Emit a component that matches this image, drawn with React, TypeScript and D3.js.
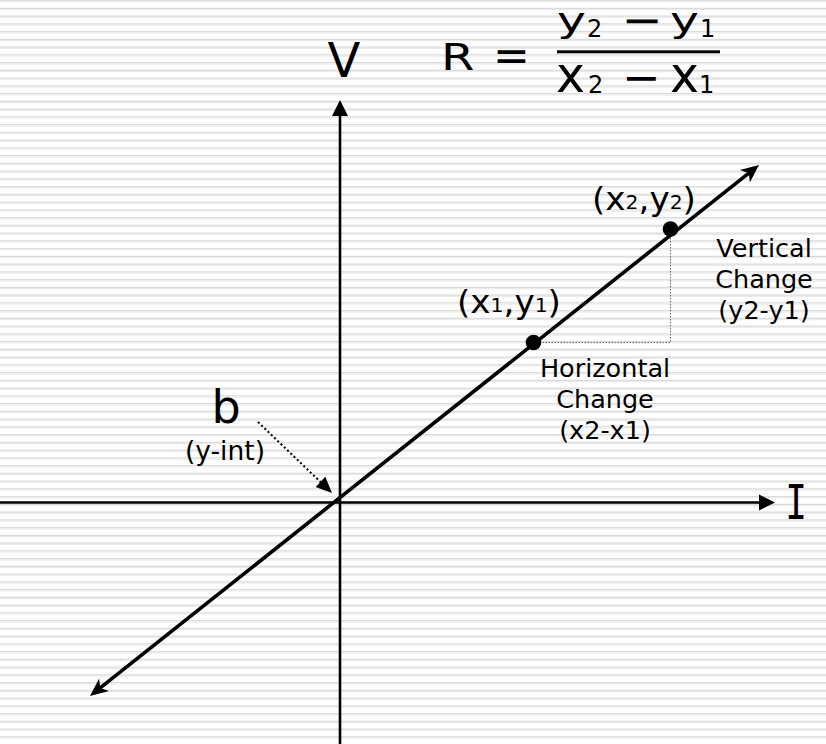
import React from "react";
import * as d3 from "d3";

const W = 826;
const H = 744;

// coordinate system (diagram units)
const xDomain = [-6.8, 9.72];
const yDomain = [-4.83, 10.05];

// axes: [start, arrow tip]
const hAxis = [-6.8, 8.7];
const vAxis = [-4.83, 8.05];

// the line R through the two points (ends are arrow tips)
const lineEnds: [number, number][] = [
  [-5.0, -3.87],
  [8.38, 6.75],
];

const pointNames = ["p1", "p2"];
const pointX = [3.87, 6.61];
const pointY = [3.2, 5.47];

const stripePeriod = 7.75;

const FONT = "'DejaVu Sans', Verdana, sans-serif";

function arrowHead(tipX: number, tipY: number, fromX: number, fromY: number, len: number, half: number, notch: number) {
  const a = Math.atan2(tipY - fromY, tipX - fromX);
  const c = Math.cos(a), s = Math.sin(a);
  const p = (u: number, v: number) => [tipX + u * c - v * s, tipY + u * s + v * c];
  const pts = [p(0, 0), p(-len, -half), p(-len + notch, 0), p(-len, half)];
  return "M" + pts.map((q) => q.join(",")).join("L") + "Z";
}

export default function App() {
  const x = d3.scaleLinear().domain(xDomain).range([0, W]);
  const y = d3.scaleLinear().domain(yDomain).range([H, 0]);

  const stripes = d3.range(0, H, stripePeriod);

  const ox = x(0);
  const oy = y(0);

  const hTip = x(hAxis[1]);
  const vTip = y(vAxis[1]);
  const axisArrowLen = 16;

  const [l0, l1] = lineEnds;
  const lx0 = x(l0[0]), ly0 = y(l0[1]);
  const lx1 = x(l1[0]), ly1 = y(l1[1]);
  const ang = Math.atan2(ly1 - ly0, lx1 - lx0);
  const back = 11;
  const lineGen = d3.line();
  const lineD = lineGen([
    [lx0 + back * Math.cos(ang), ly0 + back * Math.sin(ang)],
    [lx1 - back * Math.cos(ang), ly1 - back * Math.sin(ang)],
  ]);

  const p1x = x(pointX[0]), p1y = y(pointY[0]);
  const p2x = x(pointX[1]), p2y = y(pointY[1]);

  // b annotation dotted arrow
  const bx0 = 258, by0 = 422, bx1 = 332, by1 = 493;
  const bAng = Math.atan2(by1 - by0, bx1 - bx0);

  const sub = 19;

  return (
    <svg
      width={W}
      height={H}
      viewBox={`0 0 ${W} ${H}`}
      style={{ position: "absolute", left: 0, top: 0, display: "block", background: "#fff" }}
      fontFamily={FONT}
    >
      <rect x={0} y={0} width={W} height={H} fill="#ffffff" />
      {stripes.map((s, i) => (
        <g key={i}>
          <rect x={0} y={s} width={W} height={1.3} fill="#dcdcdc" />
          <rect x={0} y={s + 1.3} width={W} height={1.2} fill="#ebebeb" />
        </g>
      ))}

      {/* axes */}
      <line x1={x(hAxis[0])} y1={oy} x2={hTip - axisArrowLen + 2} y2={oy} stroke="#000" strokeWidth={2.6} />
      <path d={arrowHead(hTip, oy, ox, oy, axisArrowLen, 8, 0)} fill="#000" />
      <line x1={ox} y1={y(vAxis[0])} x2={ox} y2={vTip + axisArrowLen - 2} stroke="#000" strokeWidth={2.6} />
      <path d={arrowHead(ox, vTip, ox, oy, axisArrowLen, 8, 0)} fill="#000" />

      {/* dotted change lines */}
      <line x1={p1x} y1={p1y} x2={p2x} y2={p1y} stroke="#666" strokeWidth={1} strokeDasharray="1.5,1.5" />
      <line x1={p2x} y1={p2y} x2={p2x} y2={p1y} stroke="#666" strokeWidth={1} strokeDasharray="1.5,1.5" />

      {/* the line */}
      <path d={lineD || ""} stroke="#000" strokeWidth={3.6} fill="none" />
      <path d={arrowHead(lx1, ly1, lx0, ly0, 18, 8, 5)} fill="#000" />
      <path d={arrowHead(lx0, ly0, lx1, ly1, 18, 8, 5)} fill="#000" />

      {/* points */}
      {pointNames.map((n, i) => (
        <circle key={n} cx={x(pointX[i])} cy={y(pointY[i])} r={7.8} fill="#000" />
      ))}

      {/* b dotted arrow */}
      <line
        x1={bx0}
        y1={by0}
        x2={bx1 - 14 * Math.cos(bAng)}
        y2={by1 - 14 * Math.sin(bAng)}
        stroke="#000"
        strokeWidth={2}
        strokeDasharray="2,2.5"
      />
      <path d={arrowHead(bx1, by1, bx0, by0, 16, 7, 0)} fill="#000" />

      {/* axis letters */}
      <text x={344} y={77} fontSize={48} textAnchor="middle">V</text>
      <text x={796} y={519} fontSize={48} textAnchor="middle" fontFamily="'DejaVu Sans Mono', monospace" transform="translate(796,0) scale(0.75,1) translate(-796,0)">I</text>

      {/* formula */}
      <text transform="translate(441,70) scale(1.3,1)" fontSize={37}>R</text>
      <text x={493} y={71} fontSize={44}>=</text>
      <text transform="translate(557,31.5) scale(1,0.7)" fontSize={49}>y</text>
      <text transform="translate(670,31.5) scale(1,0.7)" fontSize={49}>y</text>
      <text x={587} y={37} fontSize={24}>2</text>
      <text transform="translate(623,30.5) scale(1.5,1)" fontSize={31} stroke="#000" strokeWidth={1.2}>−</text>
      <text x={700} y={37} fontSize={24}>1</text>
      <rect x={557} y={50.3} width={163} height={3} fill="#000" />
      <text x={556} y={92} fontSize={49}>x</text>
      <text x={588} y={93} fontSize={24}>2</text>
      <text x={622} y={93} fontSize={46}>−</text>
      <text x={670} y={92} fontSize={49}>x</text>
      <text x={699} y={93} fontSize={24}>1</text>

      {/* point labels */}
      <text transform="translate(592,210) scale(1.07,1)" fontSize={32}>
        (x<tspan fontSize={sub} dy={-1}>2</tspan>
        <tspan dy={1}>,y</tspan>
        <tspan fontSize={sub} dy={-1}>2</tspan>
        <tspan dy={1}>)</tspan>
      </text>
      <text transform="translate(457,313) scale(1.07,1)" fontSize={32}>
        (x<tspan fontSize={sub} dy={-1}>1</tspan>
        <tspan dy={1}>,y</tspan>
        <tspan fontSize={sub} dy={-1}>1</tspan>
        <tspan dy={1}>)</tspan>
      </text>

      {/* change labels */}
      <g fontSize={25.5} textAnchor="middle">
        <text x={764} y={257}>Vertical</text>
        <text x={764} y={288}>Change</text>
        <text x={764} y={319}>(y2-y1)</text>
        <text x={605} y={377}>Horizontal</text>
        <text x={605} y={408}>Change</text>
        <text x={605} y={439}>(x2-x1)</text>
      </g>

      {/* intercept */}
      <text x={226} y={423} fontSize={46} textAnchor="middle">b</text>
      <text x={225} y={460} fontSize={26.5} textAnchor="middle">(y-int)</text>
    </svg>
  );
}
